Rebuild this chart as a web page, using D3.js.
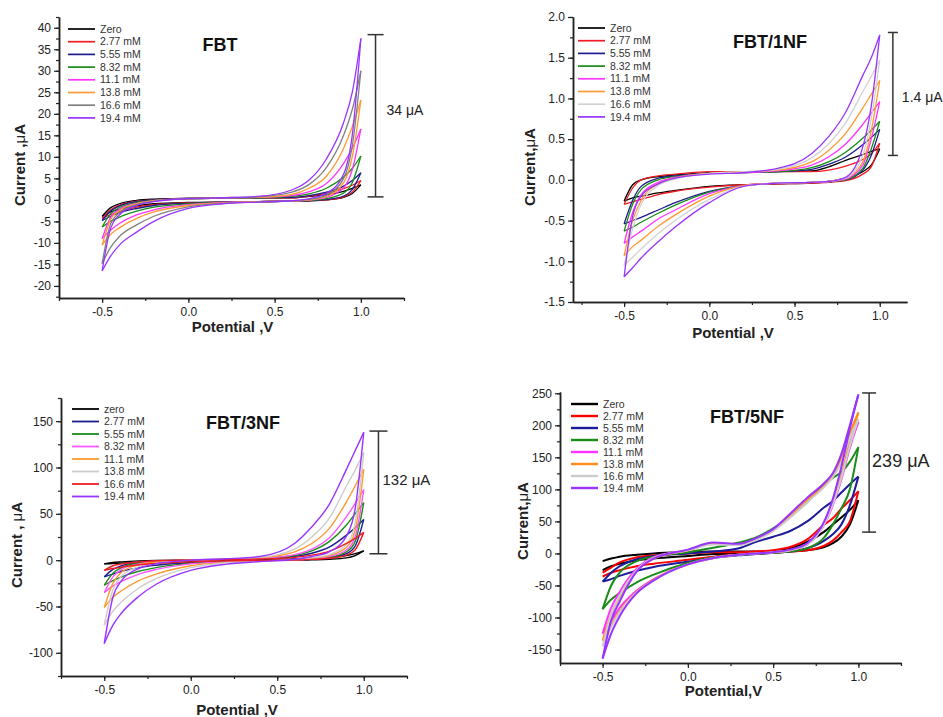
<!DOCTYPE html>
<html>
<head>
<meta charset="utf-8">
<title>CV curves FBT</title>
<style>
body { margin: 0; background: #fff; }
svg { font-family: Arial, "Liberation Sans", sans-serif; }
</style>
</head>
<body>
<script src="https://d3js.org/d3.v7.min.js"></script>
<script>
// potential grids (V)
var potentials = [-0.5, -0.45, -0.4, -0.3, -0.2, 0, 0.2, 0.4, 0.6, 0.7, 0.8, 0.9, 0.95, 1.0];
var potentials5NF = [-0.5, -0.45, -0.4, -0.3, -0.2, 0, 0.15, 0.3, 0.4, 0.5, 0.6, 0.7, 0.8, 0.85, 0.9, 0.95, 1.0];

// legend labels
var labelsFBT = ["Zero", "2.77 mM", "5.55 mM", "8.32 mM", "11.1 mM", "13.8 mM", "16.6 mM", "19.4 mM"];
var labels3NF = ["zero", "2.77 mM", "5.55 mM", "8.32 mM", "11.1 mM", "13.8 mM", "16.6 mM", "19.4 mM"];

// FBT, current in uA (upper branch / lower branch)
var fbtUpper = [
  [-3.8, -1.8, -0.9, -0.1, 0.2, 0.4, 0.5, 0.5, 0.5, 0.8, 1.2, 2.0, 2.7, 3.5],
  [-4.3, -2.3, -1.2, -0.3, 0.0, 0.3, 0.4, 0.5, 0.5, 0.9, 1.5, 2.6, 3.4, 4.5],
  [-4.8, -2.6, -1.4, -0.4, 0.0, 0.3, 0.4, 0.5, 0.6, 1.0, 1.8, 3.2, 4.5, 6.3],
  [-6.3, -3.2, -1.8, -0.6, -0.1, 0.3, 0.4, 0.5, 0.8, 1.4, 2.7, 5.3, 7.3, 10.2],
  [-9.0, -4.0, -2.2, -0.8, -0.2, 0.3, 0.5, 0.6, 1.0, 1.9, 3.8, 8.5, 12.0, 16.5],
  [-10.5, -4.5, -2.5, -0.9, -0.2, 0.3, 0.5, 0.6, 1.3, 2.7, 5.5, 12.0, 17.0, 23.2],
  [-14.8, -5.5, -3.0, -1.1, -0.3, 0.3, 0.5, 0.7, 1.8, 3.6, 7.5, 15.0, 21.0, 30.0],
  [-16.5, -6.5, -3.5, -1.3, -0.4, 0.3, 0.5, 0.8, 2.3, 4.6, 9.5, 18.0, 25.0, 37.5]
];
var fbtLower = [
  [-3.8, -2.8, -2.2, -1.4, -0.9, -0.6, -0.5, -0.4, -0.3, -0.2, 0.0, 0.6, 1.5, 3.5],
  [-4.3, -3.4, -2.7, -1.7, -1.1, -0.7, -0.5, -0.4, -0.3, -0.2, 0.0, 0.7, 1.8, 4.5],
  [-4.8, -3.8, -3.0, -2.0, -1.3, -0.8, -0.5, -0.4, -0.3, -0.2, 0.1, 0.9, 2.4, 6.3],
  [-6.3, -5.0, -4.0, -2.6, -1.7, -0.9, -0.6, -0.4, -0.3, -0.1, 0.3, 1.6, 4.0, 10.2],
  [-9.0, -7.0, -5.5, -3.5, -2.3, -1.1, -0.6, -0.4, -0.3, 0.0, 0.6, 2.8, 7.0, 16.5],
  [-10.5, -8.0, -6.5, -4.3, -2.8, -1.3, -0.7, -0.4, -0.3, 0.0, 0.8, 4.0, 10.0, 23.2],
  [-14.8, -11.0, -8.5, -5.8, -3.8, -1.6, -0.8, -0.5, -0.2, 0.1, 1.1, 5.0, 12.5, 30.0],
  [-16.5, -13.0, -10.5, -7.5, -5.0, -2.0, -0.9, -0.5, -0.2, 0.3, 1.5, 6.0, 15.0, 37.5]
];

// FBT/1NF
var nf1Upper = [
  [-0.26, -0.06, 0.0, 0.04, 0.06, 0.09, 0.1, 0.1, 0.11, 0.16, 0.24, 0.31, 0.35, 0.38],
  [-0.3, -0.1, 0.0, 0.05, 0.07, 0.1, 0.1, 0.1, 0.1, 0.12, 0.17, 0.25, 0.32, 0.45],
  [-0.54, -0.25, -0.08, 0.02, 0.05, 0.08, 0.09, 0.1, 0.13, 0.19, 0.28, 0.43, 0.52, 0.62],
  [-0.63, -0.3, -0.12, 0.0, 0.04, 0.08, 0.09, 0.1, 0.15, 0.22, 0.34, 0.51, 0.61, 0.72],
  [-0.78, -0.4, -0.18, -0.03, 0.03, 0.08, 0.09, 0.11, 0.18, 0.28, 0.44, 0.68, 0.82, 0.96],
  [-0.93, -0.5, -0.25, -0.05, 0.02, 0.08, 0.1, 0.12, 0.22, 0.36, 0.57, 0.88, 1.05, 1.22],
  [-1.05, -0.6, -0.3, -0.07, 0.01, 0.08, 0.1, 0.13, 0.27, 0.44, 0.7, 1.08, 1.27, 1.47],
  [-1.19, -0.45, -0.2, -0.05, 0.02, 0.07, 0.09, 0.14, 0.32, 0.53, 0.83, 1.28, 1.5, 1.78]
];
var nf1Lower = [
  [-0.26, -0.22, -0.2, -0.16, -0.13, -0.08, -0.06, -0.05, -0.04, -0.02, 0.02, 0.1, 0.18, 0.38],
  [-0.3, -0.27, -0.24, -0.18, -0.14, -0.09, -0.06, -0.05, -0.04, -0.03, -0.01, 0.07, 0.16, 0.45],
  [-0.54, -0.5, -0.46, -0.37, -0.28, -0.14, -0.07, -0.04, -0.03, -0.02, 0.0, 0.12, 0.3, 0.62],
  [-0.63, -0.58, -0.52, -0.41, -0.31, -0.15, -0.07, -0.04, -0.03, -0.02, 0.0, 0.14, 0.38, 0.72],
  [-0.78, -0.7, -0.63, -0.48, -0.37, -0.17, -0.07, -0.04, -0.03, -0.02, 0.01, 0.18, 0.5, 0.96],
  [-0.93, -0.82, -0.74, -0.57, -0.43, -0.2, -0.07, -0.04, -0.03, -0.02, 0.02, 0.22, 0.6, 1.22],
  [-1.05, -0.95, -0.85, -0.66, -0.5, -0.24, -0.08, -0.04, -0.03, -0.02, 0.02, 0.3, 0.75, 1.47],
  [-1.19, -1.08, -0.96, -0.76, -0.58, -0.28, -0.08, -0.04, -0.03, -0.02, 0.03, 0.4, 0.9, 1.78]
];

// FBT/3NF
var nf3Upper = [
  [-4, -2.5, -1.8, -0.8, -0.3, 0, 0.3, 0.6, 1.2, 1.8, 2.8, 5, 7, 10],
  [-18, -10, -6, -2.5, -0.8, 0, 0.7, 1.5, 4, 7.5, 14, 27, 35, 44],
  [-27, -14, -8, -3, -1, 0, 0.8, 1.8, 5, 10, 20, 38, 50, 62],
  [-35, -18, -10, -4, -1.5, 0, 1, 2, 6, 12, 24, 47, 61, 76],
  [-51, -25, -13, -5, -2, 0, 1, 2.5, 9, 18, 34, 63, 80, 98],
  [-70, -32, -17, -7, -3, 0, 1.2, 3, 12, 25, 45, 80, 97, 116],
  [-11, -6, -4, -1.8, -0.6, 0, 0.6, 1.2, 3, 5.5, 9.5, 18, 23.5, 30],
  [-90, -40, -22, -9, -4, 0, 1.5, 4, 18, 36, 60, 98, 118, 138]
];
var nf3Lower = [
  [-4, -3.6, -3.2, -2.5, -1.8, -1, -0.5, -0.2, 0, 0.4, 1, 2.5, 5, 10],
  [-18, -15, -12, -8, -5.5, -2.5, -1.2, -0.4, 0.1, 1, 2.5, 7, 15, 44],
  [-27, -22, -18, -12, -8, -3.5, -1.5, -0.5, 0.2, 1.2, 3, 9, 20, 62],
  [-35, -28, -23, -15, -10, -4, -2, -0.6, 0.2, 1.5, 4, 11, 25, 76],
  [-51, -40, -33, -22, -15, -6, -2.5, -0.8, 0.3, 2, 5, 14, 32, 98],
  [-70, -55, -45, -30, -20, -8, -3, -1, 0.5, 2.5, 6, 17, 40, 116],
  [-11, -9, -7.5, -5, -3.5, -1.8, -0.8, -0.3, 0.1, 0.8, 2, 5.5, 11, 30],
  [-90, -70, -57, -39, -26, -11, -4.5, -1.5, 1, 4, 9, 26, 55, 138]
];

// FBT/5NF
var nf5Upper = [
  [-12, -8, -5, -2, 0, 2, 3, 3, 3, 4, 8, 18, 34, 45, 56, 68, 83],
  [-30, -22, -14, -6, -3, 0, 2, 2, 3, 5, 10, 22, 45, 55, 70, 83, 97],
  [-44, -30, -20, -9, -4, 0, 3, 8, 18, 26, 35, 50, 72, 82, 95, 108, 120],
  [-87, -50, -30, -12, -5, 2, 9, 17, 25, 39, 58, 80, 108, 118, 127, 143, 166],
  [-125, -85, -60, -24, -6, 5, 15, 14, 22, 36, 57, 82, 105, 120, 145, 180, 205],
  [-136, -95, -68, -27, -8, 5, 15, 14, 22, 36, 58, 83, 106, 122, 148, 188, 220],
  [-145, -95, -66, -26, -7, 5, 14, 13, 21, 35, 56, 80, 104, 119, 142, 180, 210],
  [-164, -105, -75, -28, -8, 6, 17, 15, 24, 38, 62, 87, 110, 125, 155, 200, 248]
];
var nf5Lower = [
  [-26, -20, -16, -11, -8, -4, -1, 0, 1, 2, 3, 5, 10, 16, 26, 45, 83],
  [-36, -30, -26, -20, -16, -10, -5, -2, 0, 1, 3, 5, 12, 20, 33, 50, 97],
  [-44, -40, -35, -27, -21, -13, -7, -3, -1, 1, 3, 8, 20, 30, 45, 75, 120],
  [-87, -72, -62, -45, -33, -15, -6, -2, 0, 1, 3, 8, 25, 45, 70, 100, 166],
  [-125, -105, -85, -58, -40, -17, -7, -2, 0, 2, 5, 14, 45, 75, 115, 165, 205],
  [-136, -112, -90, -60, -41, -17, -7, -2, 0, 2, 5, 15, 48, 80, 122, 175, 220],
  [-145, -115, -92, -61, -42, -17, -7, -2, 0, 2, 5, 14, 46, 77, 118, 168, 210],
  [-164, -125, -98, -62, -42, -17, -7, -2, 0, 2, 6, 16, 50, 85, 135, 195, 248]
];

var svg = d3.select("body").append("svg")
    .attr("width", 943)
    .attr("height", 717);

function drawPanel(p) {
    var x = d3.scaleLinear().domain(p.xDomain).range([p.left, p.right]);
    var y = d3.scaleLinear().domain(p.yDomain).range([p.bottom, p.top]);
    var g = svg.append("g");

    // curves: each sweep drawn as its two branches meeting at 1.0 V
    var line = d3.line()
        .x(function(d) { return x(d[0]); })
        .y(function(d) { return y(d[1]); })
        .curve(d3.curveMonotoneX);
    p.upper.forEach(function(u, i) {
        [u, p.lower[i]].forEach(function(branch) {
            g.append("path")
                .attr("d", line(branch.map(function(v, k) { return [p.potentials[k], v]; })))
                .attr("fill", "none")
                .attr("stroke", p.colors[i])
                .attr("stroke-width", p.lineWidth)
                .attr("stroke-linejoin", "round");
        });
    });

    // axes
    var yMinor = d3.range(Math.ceil(p.yDomain[0] / p.yMinorStep) * p.yMinorStep, p.yDomain[1] + 1e-9, p.yMinorStep);
    var xMinor = d3.range(-0.75, p.xDomain[1] + 1e-9, 0.25);
    g.append("g")
        .attr("transform", "translate(" + p.left + ",0)")
        .call(d3.axisLeft(y).tickValues(yMinor).tickSize(3).tickSizeOuter(0).tickFormat(""));
    g.append("g")
        .attr("transform", "translate(" + p.left + ",0)")
        .call(d3.axisLeft(y).tickValues(p.yTicks).tickSize(5).tickSizeOuter(0).tickPadding(3)
            .tickFormat(p.yFormat));
    g.append("g")
        .attr("transform", "translate(0," + p.bottom + ")")
        .call(d3.axisBottom(x).tickValues(xMinor).tickSize(3).tickSizeOuter(0).tickFormat(""));
    g.append("g")
        .attr("transform", "translate(0," + p.bottom + ")")
        .call(d3.axisBottom(x).tickValues([-0.5, 0, 0.5, 1.0]).tickSize(5).tickSizeOuter(0).tickPadding(4)
            .tickFormat(function(d) { return d.toFixed(1); }));
    g.selectAll(".domain").attr("stroke", "#222").attr("stroke-width", 1.5);
    g.selectAll(".tick line").attr("stroke", "#222").attr("stroke-width", 1.2);
    g.selectAll(".tick text").attr("font-size", 12).attr("fill", "#222")
        .attr("font-family", "Arial, 'Liberation Sans', sans-serif");

    // axis titles
    g.append("text")
        .attr("x", (p.left + p.right) / 2 + p.xTitleShift)
        .attr("y", p.xTitleY)
        .attr("text-anchor", "middle")
        .attr("font-size", 15).attr("font-weight", "bold").attr("fill", "#222")
        .text(p.xTitle);
    var yt = g.append("text")
        .attr("transform", "translate(" + p.yTitleX + "," + p.yTitleY + ") rotate(-90)")
        .attr("text-anchor", "middle")
        .attr("font-size", 15).attr("font-weight", "bold").attr("fill", "#222");
    yt.append("tspan").text(p.yTitle);
    yt.append("tspan").attr("font-weight", "normal").text("\u03bc");
    yt.append("tspan").text("A");

    // panel title
    g.append("text")
        .attr("x", p.titleX).attr("y", p.titleY)
        .attr("text-anchor", "middle")
        .attr("font-size", 18).attr("font-weight", "bold").attr("fill", "#111")
        .text(p.title);

    // legend
    var leg = g.append("g");
    p.labels.forEach(function(lab, i) {
        var ly = p.legendY + i * p.legendStep;
        leg.append("line")
            .attr("x1", p.legendX).attr("x2", p.legendX + 27)
            .attr("y1", ly).attr("y2", ly)
            .attr("stroke", p.colors[i]).attr("stroke-width", p.lineWidth + 0.4);
        leg.append("text")
            .attr("x", p.legendX + 32).attr("y", ly).attr("dy", "0.35em")
            .attr("font-size", 10.5).attr("fill", "#333")
            .text(lab);
    });

    // scale bar
    var bx = x(p.bar.v), by1 = y(p.bar.from), by2 = y(p.bar.to);
    g.append("line").attr("x1", bx).attr("x2", bx).attr("y1", by1).attr("y2", by2)
        .attr("stroke", "#333").attr("stroke-width", 1.5);
    [by1, by2].forEach(function(yy) {
        g.append("line").attr("x1", bx - p.bar.cap).attr("x2", bx + p.bar.cap)
            .attr("y1", yy).attr("y2", yy)
            .attr("stroke", "#333").attr("stroke-width", 1.5);
    });
    g.append("text")
        .attr("x", bx + p.bar.dx).attr("y", p.bar.textY).attr("dy", "0.35em")
        .attr("font-size", p.bar.fontSize).attr("fill", "#222")
        .text(p.bar.label);
}

drawPanel({
    left: 59, right: 404, top: 17, bottom: 298,
    xDomain: [-0.75, 1.25], yDomain: [-22.8, 42.5],
    yTicks: d3.range(-20, 41, 5), yMinorStep: 2.5, yFormat: function(d) { return String(d); },
    potentials: potentials, upper: fbtUpper, lower: fbtLower,
    colors: ["#000000", "#ee1c25", "#1c1c8c", "#1a8c1a", "#ff33ff", "#ff9933", "#808080", "#9933ff"],
    labels: labelsFBT, lineWidth: 1.3,
    title: "FBT", titleX: 220, titleY: 51,
    xTitle: "Potential ,V", xTitleY: 332, xTitleShift: 1,
    yTitle: "Current ,", yTitleX: 25, yTitleY: 165,
    legendX: 68, legendY: 29, legendStep: 12.7,
    bar: { v: 1.085, from: 0.7, to: 38.4, cap: 8, dx: 11, textY: 110, fontSize: 14, label: "34 \u03bcA" }
});

drawPanel({
    left: 573, right: 907, top: 17, bottom: 302,
    xDomain: [-0.8, 1.16], yDomain: [-1.5, 2.0],
    yTicks: d3.range(-1.5, 2.01, 0.5), yMinorStep: 0.25, yFormat: function(d) { return d.toFixed(1); },
    potentials: potentials, upper: nf1Upper, lower: nf1Lower,
    colors: ["#000000", "#ee1c25", "#1c1c8c", "#1a8c1a", "#ff33ff", "#ff9933", "#d2d2d2", "#9933ff"],
    labels: labelsFBT, lineWidth: 1.3,
    title: "FBT/1NF", titleX: 770, titleY: 48,
    xTitle: "Potential ,V", xTitleY: 338, xTitleShift: -7,
    yTitle: "Current,", yTitleX: 535, yTitleY: 167,
    legendX: 578, legendY: 28, legendStep: 12.7,
    bar: { v: 1.077, from: 0.30, to: 1.81, cap: 5, dx: 9, textY: 97, fontSize: 14, label: "1.4 \u03bcA" }
});

drawPanel({
    left: 61, right: 407, top: 398, bottom: 676,
    xDomain: [-0.75, 1.25], yDomain: [-125, 175],
    yTicks: d3.range(-100, 151, 50), yMinorStep: 25, yFormat: function(d) { return String(d); },
    potentials: potentials, upper: nf3Upper, lower: nf3Lower,
    colors: ["#000000", "#1c1c8c", "#1a8c1a", "#ff55ff", "#ff9933", "#cccccc", "#ee1c25", "#9933ff"],
    labels: labels3NF, lineWidth: 1.4,
    title: "FBT/3NF", titleX: 243, titleY: 429,
    xTitle: "Potential ,V", xTitleY: 715, xTitleShift: 3,
    yTitle: "Current , ", yTitleX: 22, yTitleY: 545,
    legendX: 72, legendY: 409, legendStep: 12.5,
    bar: { v: 1.085, from: 6.9, to: 139.3, cap: 9, dx: 4, textY: 480, fontSize: 15, label: "132 \u03bcA" }
});

drawPanel({
    left: 560, right: 901, top: 392, bottom: 663,
    xDomain: [-0.75, 1.25], yDomain: [-171, 252],
    yTicks: d3.range(-150, 251, 50), yMinorStep: 25, yFormat: function(d) { return String(d); },
    potentials: potentials5NF, upper: nf5Upper, lower: nf5Lower,
    colors: ["#000000", "#ff0000", "#1c1c9c", "#1a8c1a", "#ff33ff", "#ff8c1a", "#cccccc", "#9933ff"],
    labels: labelsFBT, lineWidth: 2,
    title: "FBT/5NF", titleX: 747, titleY: 423,
    xTitle: "Potential,V", xTitleY: 696, xTitleShift: -7,
    yTitle: "Current,", yTitleX: 528, yTitleY: 521,
    legendX: 571, legendY: 404, legendStep: 12,
    bar: { v: 1.063, from: 33.3, to: 250.5, cap: 7, dx: 3, textY: 461, fontSize: 18, label: "239 \u03bcA" }
});
</script>
</body>
</html>
